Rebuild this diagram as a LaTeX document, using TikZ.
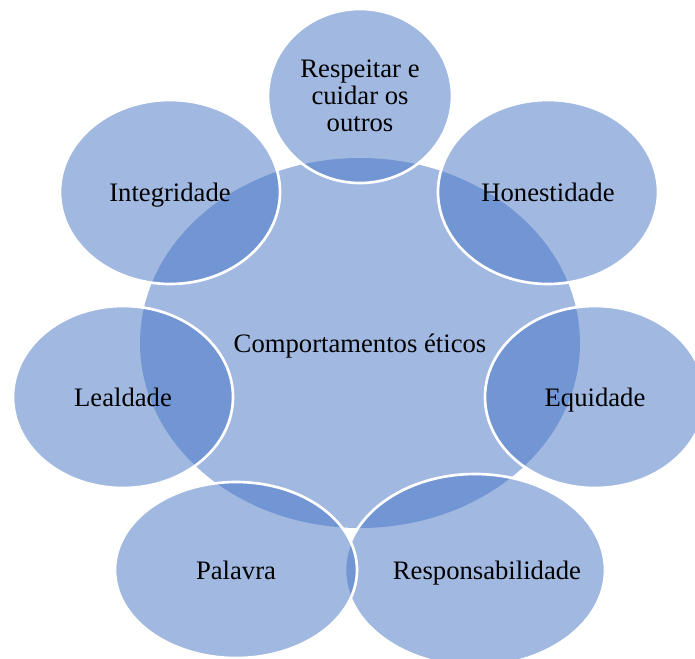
\documentclass[tikz,border=0pt]{standalone}
\usepackage{fontspec}
\setmainfont{Liberation Serif}
\usetikzlibrary{shapes.geometric}
\definecolor{petalblue}{RGB}{68,114,196}

\begin{document}
\begin{tikzpicture}[x=0.75pt,y=-0.75pt,font=\fontsize{20}{20.3}\selectfont]

\tikzstyle{core} = [ellipse, inner sep=0pt, text depth=0pt, fill=petalblue, fill opacity=0.5, text opacity=1]
\tikzstyle{petal} = [ellipse, inner sep=0pt, text depth=0pt, draw=white, line width=2pt, fill=petalblue, fill opacity=0.5, text opacity=1, align=center]

\useasboundingbox (0,0) rectangle (695,658);
\clip (0,0) rectangle (695,658);

% Define nodes
\node (etica) [core, minimum width=330pt, minimum height=277.5pt] at (360,343) {Comportamentos éticos};
\node (respeito) [petal, minimum width=138pt, minimum height=130.5pt] at (360,96) {Respeitar e\\cuidar os\\outros};
\node (honest) [petal, minimum width=165pt, minimum height=138pt] at (548,192) {Honestidade};
\node (equid) [petal, minimum width=165pt, minimum height=136.5pt] at (595,397) {Equidade};
\node (respons) [petal, minimum width=195pt, minimum height=144pt, label={[xshift=9pt, text depth=0pt]center:Responsabilidade}] at (475,570) {};
\node (palavra) [petal, minimum width=181.5pt, minimum height=132pt] at (236,570) {Palavra};
\node (leal) [petal, minimum width=165pt, minimum height=136.5pt] at (123,397) {Lealdade};
\node (integ) [petal, minimum width=165pt, minimum height=138pt] at (170,192) {Integridade};

\end{tikzpicture}
\end{document}
